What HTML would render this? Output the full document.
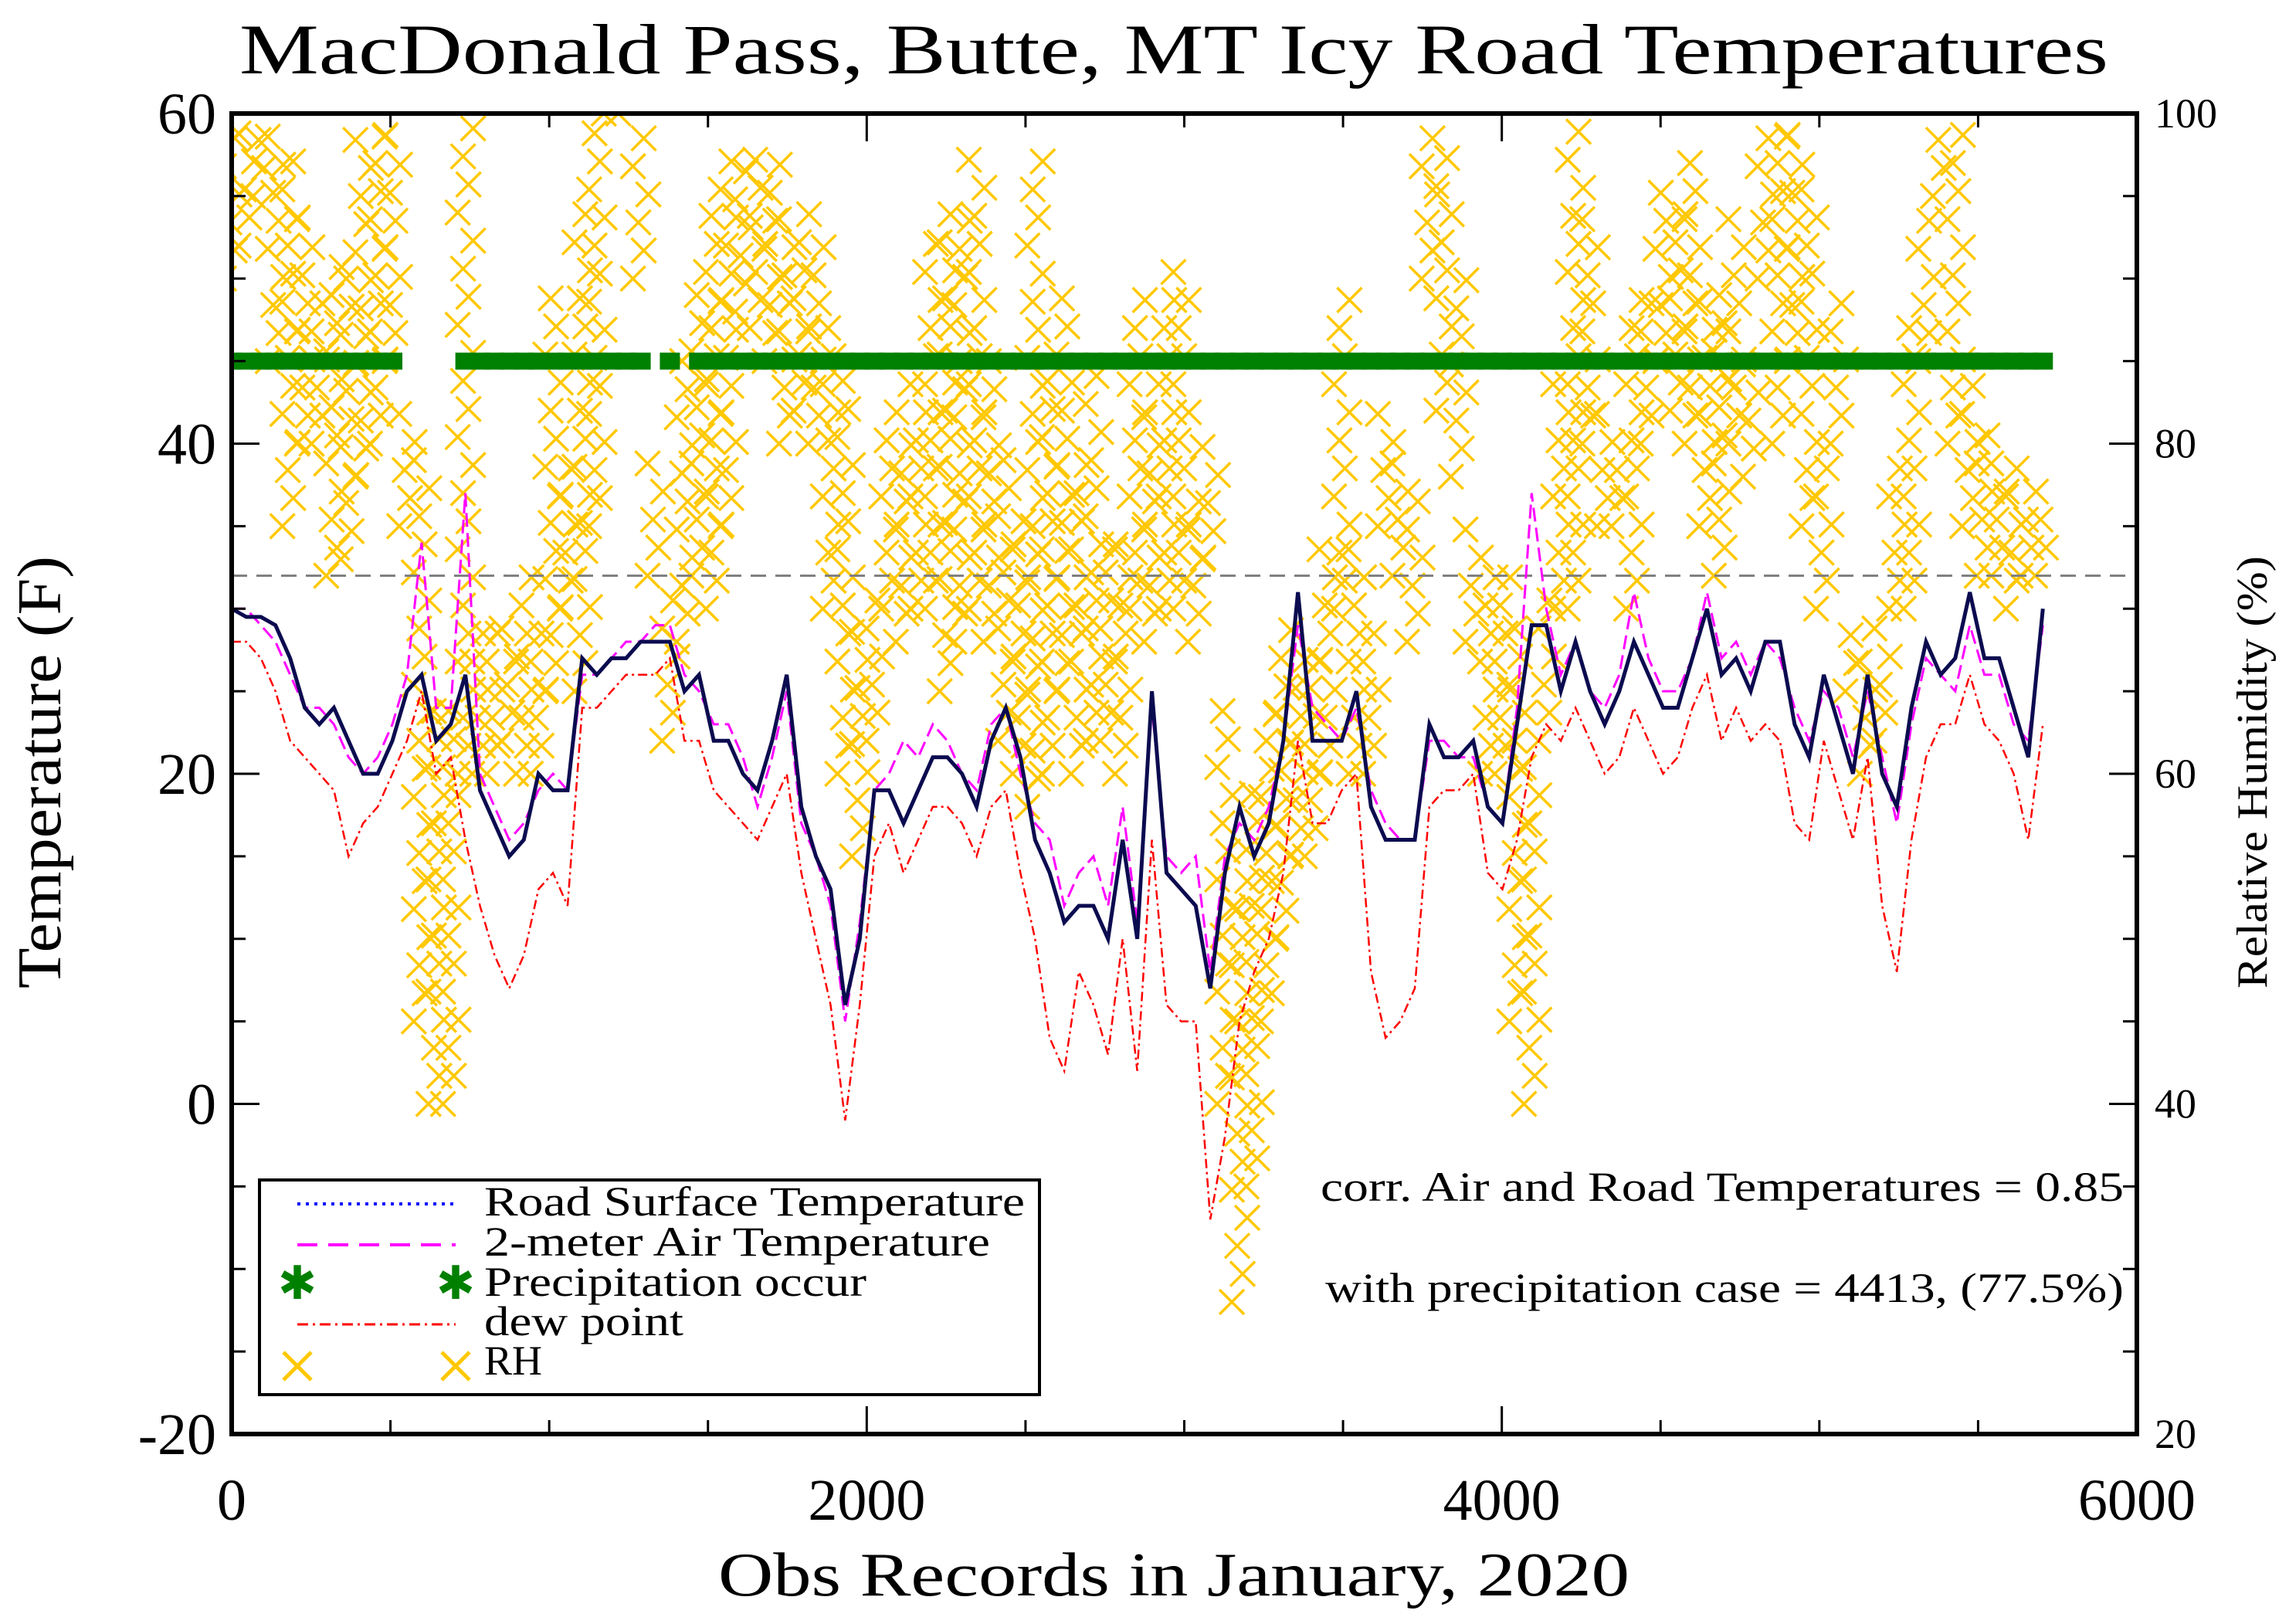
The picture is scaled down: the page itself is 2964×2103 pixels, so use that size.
<!DOCTYPE html>
<html><head><meta charset="utf-8"><style>
html,body{margin:0;padding:0;background:#fff}
svg{display:block}
text{font-family:"Liberation Serif",serif;fill:#000}
</style></head><body>
<svg id="chart" width="2964" height="2103" viewBox="0 0 2964 2103" xmlns="http://www.w3.org/2000/svg">
<rect width="2964" height="2103" fill="#fff"/>
<text x="1520" y="95" font-size="92" text-anchor="middle" textLength="2420" lengthAdjust="spacingAndGlyphs">MacDonald Pass, Butte, MT Icy Road Temperatures</text>
<g id="marks"></g>
<g id="axes"></g>
<text x="1520" y="2066" font-size="80" text-anchor="middle" textLength="1180" lengthAdjust="spacingAndGlyphs">Obs Records in    January, 2020</text>
<text transform="translate(78,1000) rotate(-90)" font-size="80" text-anchor="middle" textLength="560" lengthAdjust="spacingAndGlyphs">Temperature (F)</text>
<text transform="translate(2935,1000) rotate(-90)" font-size="56" text-anchor="middle" textLength="560" lengthAdjust="spacingAndGlyphs">Relative Humidity (%)</text>
<text x="1710" y="1555" font-size="54" textLength="1040" lengthAdjust="spacingAndGlyphs">corr. Air and Road Temperatures = 0.85</text>
<text x="1716" y="1686" font-size="54" textLength="1034" lengthAdjust="spacingAndGlyphs">with precipitation case = 4413, (77.5%)</text>
<g id="legend">
<rect x="336" y="1528" width="1010" height="278" fill="#fff" stroke="#000" stroke-width="4"/>
<line x1="385" y1="1559" x2="590" y2="1559" stroke="#0000ff" stroke-width="4" stroke-dasharray="4,7"/>
<text x="627" y="1574" font-size="54" textLength="700" lengthAdjust="spacingAndGlyphs">Road Surface Temperature</text>
<line x1="385" y1="1612" x2="590" y2="1612" stroke="#ff00ff" stroke-width="4" stroke-dasharray="26,14"/>
<text x="627" y="1626" font-size="54" textLength="655" lengthAdjust="spacingAndGlyphs">2-meter Air Temperature</text>
<text x="385" y="1682" font-size="60" style="fill:#008000" text-anchor="middle">✱</text>
<text x="590" y="1682" font-size="60" style="fill:#008000" text-anchor="middle">✱</text>
<text x="627" y="1678" font-size="54" textLength="495" lengthAdjust="spacingAndGlyphs">Precipitation occur</text>
<line x1="385" y1="1715" x2="590" y2="1715" stroke="#ff0000" stroke-width="3" stroke-dasharray="14,6,3,6"/>
<text x="627" y="1729" font-size="54" textLength="258" lengthAdjust="spacingAndGlyphs">dew point</text>
<path d="M367,1751L403,1787M367,1787L403,1751" stroke="#ffc800" stroke-width="5"/>
<path d="M572,1751L608,1787M572,1787L608,1751" stroke="#ffc800" stroke-width="5"/>
<text x="627" y="1780" font-size="54">RH</text>
</g>
</svg>
<script>
// Sample spacing: one column every 46 records
const recordStep = 46;
const roadTemp = [30,29.5,29.5,29,27,24,23,24,22,20,20,22,25,26,22,23,26,19,17,15,16,20,19,19,27,26,27,27,28,28,28,25,26,22,22,20,19,22,26,18,15,13,6,10,19,19,17,19,21,21,20,18,22,24,21,16,14,11,12,12,10,16,10,25,14,13,12,7,14,18,15,17,22,31,22,22,22,25,18,16,16,16,23,21,21,22,18,17,23,29,29,25,28,25,23,25,28,26,24,24,27,30,26,27,25,28,28,23,21,26,23,20,26,20,18,24,28,26,27,31,27,27,24,21,30];
const airTemp = [30,30,29,28,26,24,24,23,21,20,21,23,26,34,24,24,37,20,18,16,17,19,20,19,26,26,27,28,28,29,29,26,25,23,23,21,18,21,25,17,15,12,5,11,19,20,22,21,23,22,20,19,23,24,20,17,16,12,14,15,12,18,11,24,15,14,15,8,15,17,16,18,22,29,24,23,22,24,19,17,16,16,22,22,21,21,18,17,24,37,30,26,28,25,24,26,31,27,25,25,27,31,27,28,26,28,27,24,22,25,24,21,25,21,17,23,27,26,25,29,26,26,23,22,29];
const dewPoint = [28,28,27,25,22,21,20,19,15,17,18,20,22,25,20,21,16,12,9,7,9,13,14,12,24,24,25,26,26,26,27,22,22,19,18,17,16,18,20,14,10,6,-1,6,15,17,14,16,18,18,17,15,18,19,14,10,4,2,8,6,3,10,2,16,6,5,5,-7,-2,5,8,10,14,22,17,17,19,20,8,4,5,7,18,19,19,20,14,13,16,21,23,22,24,22,20,21,24,22,20,21,24,26,22,24,22,23,22,17,16,22,19,16,21,12,8,16,21,23,23,26,23,22,20,16,23];
const rhMin = [90,92,95,85,75,80,80,72,73,78,80,85,75,45,40,40,60,60,60,62,60,60,65,70,65,75,100,100,90,72,62,68,72,70,75,88,87,85,80,82,80,70,60,55,62,70,68,70,70,65,68,70,68,62,60,58,60,65,60,62,62,60,70,68,70,70,68,73,40,28,35,45,50,55,55,60,70,60,60,75,72,68,90,82,78,68,60,60,45,40,62,70,70,80,75,75,70,80,85,82,80,75,72,80,78,90,80,85,75,70,80,65,60,62,70,70,85,95,80,75,72,72,70,72,72];
const rhMax = [100,100,100,100,98,95,90,92,90,100,100,100,82,80,65,65,100,70,70,70,72,70,90,80,95,100,100,100,100,80,72,85,90,95,98,98,98,97,95,94,92,88,85,70,72,82,80,85,93,95,95,98,85,80,76,98,85,90,80,85,75,75,90,82,90,92,78,80,65,55,60,65,70,68,68,75,90,75,70,82,80,78,100,98,90,75,72,72,70,62,72,85,100,95,82,80,90,90,96,95,98,90,90,95,85,100,100,99,97,80,90,70,68,70,80,88,95,100,100,85,82,80,80,78,76];
const precipOccur = [1,1,1,1,1,1,1,1,1,1,1,1,0,0,0,0,1,1,1,1,1,1,1,1,1,1,1,1,1,0,1,0,1,1,1,1,1,1,1,1,1,1,1,1,1,1,1,1,1,1,1,1,1,1,1,1,1,1,1,1,1,1,1,1,1,1,1,1,1,1,1,1,1,1,1,1,1,1,1,1,1,1,1,1,1,1,1,1,1,1,1,1,1,1,1,1,1,1,1,1,1,1,1,1,1,1,1,1,1,1,1,1,1,1,1,1,1,1,1,1,1,1,1,1,1];
const xTicks = [0,2000,4000,6000];
const yTicks = [-20,0,20,40,60];
const rhTicks = [20,40,60,80,100];
const precipLevel = 45, freezeLine = 32;

const NS = "http://www.w3.org/2000/svg";
const L=300, R=2767, T=147, B=1857;
const xS = v => L + (v/6000)*(R-L);
const yS = v => B - ((v+20)/80)*(B-T);
const rS = v => B - ((v-20)/80)*(B-T);
const marks = document.getElementById('marks');
const axes = document.getElementById('axes');
function mk(tag, attrs, parent){ const e=document.createElementNS(NS,tag); for(const k in attrs) e.setAttribute(k,attrs[k]); parent.appendChild(e); return e; }

const defs = mk('defs',{},marks);
const cp = mk('clipPath',{id:'pc'},defs);
mk('rect',{x:L,y:T,width:R-L,height:B-T},cp);
const g = mk('g',{'clip-path':'url(#pc)'},marks);

// RH crosses
const rhG = mk('g',{},g);


let p='';
const cs=16;
const offs=[-10,4,-3,10];
rhMin.forEach((lo,i)=>{
  const hi=rhMax[i];
  const x=xS(i*recordStep);
  let k=0;
  for(let v=lo; v<=hi+0.01; v+=1.7){
    const y=rS(v);
    const dx = offs[k++%4];
    p+=`M${x+dx-cs},${y-cs}L${x+dx+cs},${y+cs}M${x+dx-cs},${y+cs}L${x+dx+cs},${y-cs}`;
  }
});
mk('path',{d:p,stroke:'#ffc800',"stroke-width":3.5,fill:'none'},rhG);

const fl = mk('line',{x1:L,x2:R,y1:yS(freezeLine),y2:yS(freezeLine),stroke:'#808080','stroke-width':3,'stroke-dasharray':'20,12'},g);



const pg = mk('g',{},g);


precipOccur.forEach((f,i)=>{
  if(!f) return;
  const r = mk('rect',{x:xS(i*recordStep)-13,y:yS(precipLevel)-11,width:26,height:22,fill:'#008000'},pg);
  
  
});

function line(arr, attrs, name){
  const d = arr.map((v,i)=>(i?'L':'M')+xS(i*recordStep).toFixed(1)+','+yS(v).toFixed(1)).join('');
  const e = mk('path',Object.assign({d:d,fill:'none'},attrs),g);
  
  
}
line(dewPoint,{stroke:'#ff0000','stroke-width':2.5,'stroke-dasharray':'12,5,3,5'},'dew-point-line');
line(airTemp,{stroke:'#ff00ff','stroke-width':3,'stroke-dasharray':'18,8'},'air-temp-line');
line(roadTemp,{stroke:'#0b0b50','stroke-width':5},'road-temp-line');

const fr = mk('rect',{x:L,y:T,width:R-L,height:B-T,fill:'none',stroke:'#000','stroke-width':6},axes);


for(let v=0; v<=6000; v+=500){
  const len = v%2000===0?36:18, x=xS(v);
  mk('line',{x1:x,x2:x,y1:B,y2:B-len,stroke:'#000','stroke-width':3},axes);
  mk('line',{x1:x,x2:x,y1:T,y2:T+len,stroke:'#000','stroke-width':3},axes);
}
for(let v=-20; v<=60; v+=5){
  const len = v%20===0?36:18, y=yS(v);
  mk('line',{x1:L,x2:L+len,y1:y,y2:y,stroke:'#000','stroke-width':3},axes);
}
for(let v=20; v<=100; v+=5){
  const len = v%20===0?36:18, y=rS(v);
  mk('line',{x1:R,x2:R-len,y1:y,y2:y,stroke:'#000','stroke-width':3},axes);
}
xTicks.forEach(v=>{
  const t=mk('text',{x:xS(v),y:1968,'font-size':76,'text-anchor':'middle'},axes);
  t.textContent=v;
  
  
});
yTicks.forEach(v=>{
  const t=mk('text',{x:280,y:yS(v)+26,'font-size':76,'text-anchor':'end'},axes);
  t.textContent=v;
  
  
});
rhTicks.forEach(v=>{
  const t=mk('text',{x:2790,y:rS(v)+18,'font-size':54},axes);
  t.textContent=v;
  
  
});
</script>
</body></html>
